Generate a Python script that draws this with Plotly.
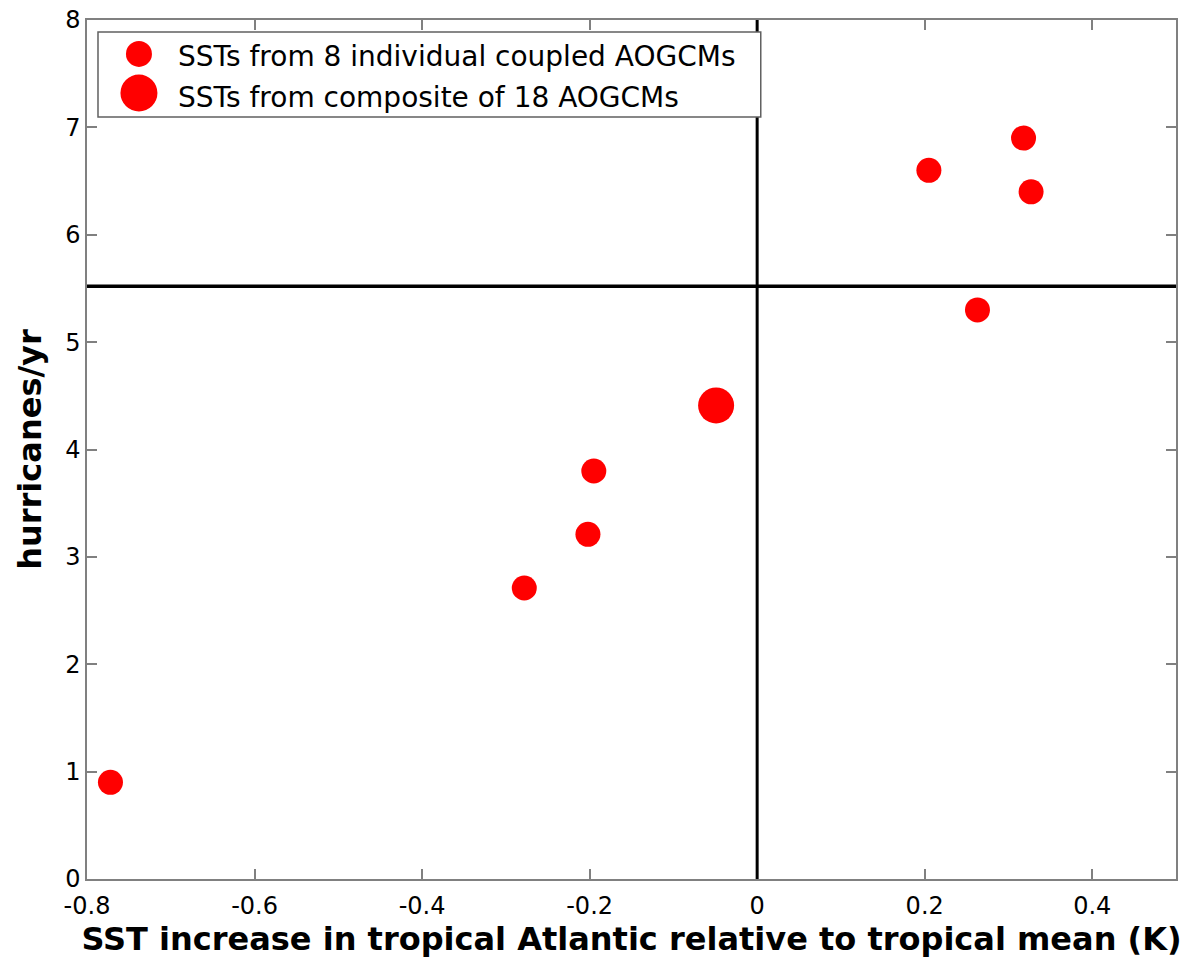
import plotly.graph_objects as go

# individual AOGCM points
ind_x = [-0.772, -0.278, -0.202, -0.195, 0.205, 0.318, 0.327, 0.263]
ind_y = [0.90, 2.71, 3.21, 3.80, 6.60, 6.90, 6.40, 5.30]
# composite point
comp_x = [-0.049]
comp_y = [4.41]

ref_x = 0.0
ref_y = 5.52

x_ticks = [-0.8, -0.6, -0.4, -0.2, 0, 0.2, 0.4]
x_ticklabels = ["-0.8", "-0.6", "-0.4", "-0.2", "0", "0.2", "0.4"]
y_ticks = [0, 1, 2, 3, 4, 5, 6, 7, 8]

legend_labels = ["SSTs from 8 individual coupled AOGCMs", "SSTs from composite of 18 AOGCMs"]

FONT = "DejaVu Sans, Verdana, sans-serif"
RED = "#ff0000"
SMALL, LARGE = 25, 36

fig = go.Figure()
fig.add_vline(x=ref_x, line=dict(color="black", width=3))
fig.add_hline(y=ref_y, line=dict(color="black", width=3.5))

fig.add_trace(go.Scatter(x=ind_x, y=ind_y, mode="markers",
                         marker=dict(color=RED, size=SMALL, line=dict(width=0)),
                         name=legend_labels[0], showlegend=False))
fig.add_trace(go.Scatter(x=comp_x, y=comp_y, mode="markers",
                         marker=dict(color=RED, size=LARGE, line=dict(width=0)),
                         name=legend_labels[1], showlegend=False))

# custom legend box
fig.add_shape(type="rect", xref="paper", yref="paper",
              x0=0.0101, x1=0.6187, y0=0.887, y1=0.986,
              line=dict(color="#606060", width=1.5), fillcolor="white", layer="above")
# legend symbols as pixel-sized circles
for cy, d in [(0.9605, SMALL + 1), (0.915, LARGE + 1)]:
    fig.add_shape(type="circle", xref="paper", yref="paper",
                  xsizemode="pixel", ysizemode="pixel",
                  xanchor=0.0477, yanchor=cy,
                  x0=-d / 2, x1=d / 2, y0=-d / 2, y1=d / 2,
                  fillcolor=RED, line=dict(width=0), layer="above")
fig.add_annotation(xref="paper", yref="paper", x=0.0816, y=0.958, text=legend_labels[0],
                   showarrow=False, font=dict(family=FONT, size=28, color="black"),
                   xanchor="left", yanchor="middle")
fig.add_annotation(xref="paper", yref="paper", x=0.0816, y=0.910, text=legend_labels[1],
                   showarrow=False, font=dict(family=FONT, size=28, color="black"),
                   xanchor="left", yanchor="middle")

axis_common = dict(showgrid=False, zeroline=False, showline=True, linecolor="#808080",
                   linewidth=1.5, mirror="ticks", ticks="inside", ticklen=10,
                   tickcolor="#808080", tickwidth=1.5,
                   tickfont=dict(family=FONT, size=24, color="black"))

fig.update_xaxes(range=[-0.8, 0.5], tickvals=x_ticks, ticktext=x_ticklabels,
                 ticklabelstandoff=4,
                 title=dict(text="<b>SST increase in tropical Atlantic relative to tropical mean (K)</b>",
                            font=dict(family=FONT, size=32, color="black"), standoff=2),
                 **axis_common)
fig.update_yaxes(range=[0, 8], tickvals=y_ticks,
                 title=dict(text="<b>hurricanes/yr</b>",
                            font=dict(family=FONT, size=32, color="black"), standoff=14),
                 **axis_common)

fig.update_layout(width=1184, height=960, plot_bgcolor="white", paper_bgcolor="white",
                  margin=dict(l=87, r=6, t=19, b=81), showlegend=False)

fig.write_html("out.html")
